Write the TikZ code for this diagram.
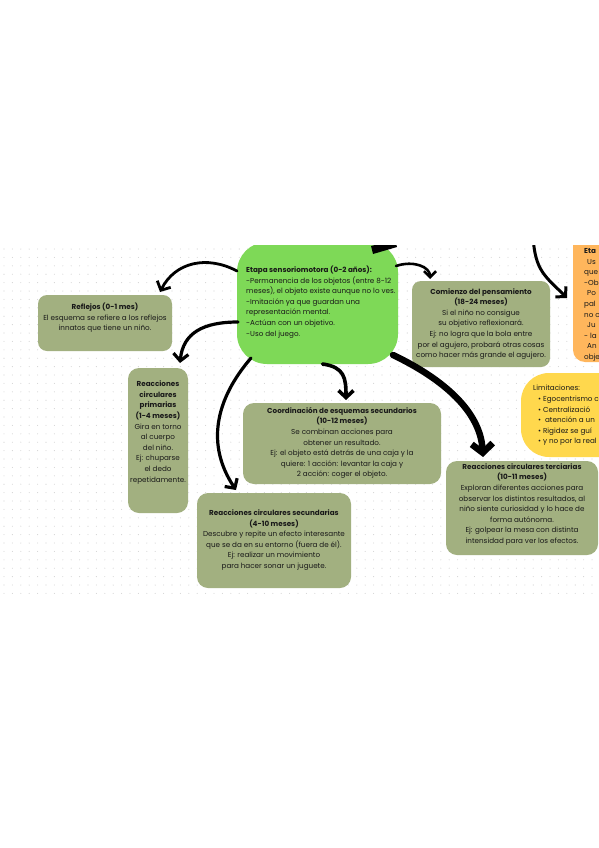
\documentclass[tikz,border=0pt]{standalone}
\usepackage{fontspec}
\setmainfont{Poppins}
\usetikzlibrary{arrows.meta,calc}
\definecolor{leaf}{RGB}{126,217,87}
\definecolor{sage}{RGB}{162,176,128}
\definecolor{peach}{RGB}{255,182,92}
\definecolor{sun}{RGB}{255,216,77}
\definecolor{ink}{RGB}{25,25,25}
\definecolor{dotc}{RGB}{212,212,212}
\begin{document}
\begin{tikzpicture}[x=1pt,y=-1pt,
  box/.style={rounded corners=9pt, fill=sage, inner sep=0pt, outer sep=0pt},
  txt/.style={inner sep=0pt, align=center, text=ink, font=\fontsize{7.2}{10.6}\selectfont},
  arr/.style={draw=black, line cap=round, -{Straight Barb[length=7pt,width=15pt]}, line width=3pt},
]
\useasboundingbox (0,0) rectangle (599,848);
\fill[white] (0,0) rectangle (599,848);
\begin{scope}
\clip (0,245) rectangle (599,600);
\foreach \i in {0,...,71}{\foreach \j in {0,...,42}{\fill[dotc] (4+8.4*\i, 249+8.4*\j) circle (0.55);}}
% boxes
\node[box, fill=leaf, rounded corners=30pt, minimum width=161pt, minimum height=122pt] (blob) at (317.5,303) {};
\node[box, minimum width=134pt, minimum height=56pt] (refl) at (105,323) {};
\node[box, minimum width=138pt, minimum height=86pt] (com) at (481,324) {};
\node[box, rounded corners=11pt, minimum width=60pt, minimum height=145pt] (prim) at (158,440.5) {};
\node[box, rounded corners=11pt, minimum width=198pt, minimum height=81pt] (coord) at (342,443.5) {};
\node[box, rounded corners=11pt, minimum width=154pt, minimum height=95pt] (sec) at (274,540.5) {};
\node[box, rounded corners=11pt, minimum width=152pt, minimum height=94pt] (terc) at (522,508) {};
\node[box, fill=sun, rounded corners=28pt, minimum width=129pt, minimum height=84pt] (lim) at (585.5,415) {};
\node[box, fill=peach, rounded corners=12pt, minimum width=67pt, minimum height=132pt] (org) at (606.5,296) {};
% texts
\node[txt, anchor=west, align=left] (blobt) at (246,302) {\textbf{Etapa sensoriomotora (0-2 años):}\\
-Permanencia de los objetos (entre 8-12\\
meses), el objeto existe aunque no lo ves.\\
-Imitación ya que guardan una\\
representación mental.\\
-Actúan con un objetivo.\\
-Uso del juego.};
\node[txt] (reflt) at (105,318) {\textbf{Reflejos (0-1 mes)}\\
El esquema se refiere a los reflejos\\
innatos que tiene un niño.};
\node[txt] (comt) at (481,324) {\textbf{Comienzo del pensamiento}\\
\textbf{(18-24 meses)}\\
Si el niño no consigue\\
su objetivo reflexionará.\\
Ej: no logra que la bola entre\\
por el agujero, probará otras cosas\\
como hacer más grande el agujero.};
\node[txt] (primt) at (158,432.5) {\textbf{Reacciones}\\
\textbf{circulares}\\
\textbf{primarias}\\
\textbf{(1-4 meses)}\\
Gira en torno\\
al cuerpo\\
del niño.\\
Ej: chuparse\\
el dedo\\
repetidamente.};
\node[txt] (coordt) at (342,443) {\textbf{Coordinación de esquemas secundarios}\\
\textbf{(10-12 meses)}\\
Se combinan acciones para\\
obtener un resultado.\\
Ej: el objeto está detrás de una caja y la\\
quiere: 1 acción: levantar la caja y\\
2 acción: coger el objeto.};
\node[txt] (sect) at (274,540) {\textbf{Reacciones circulares secundarias}\\
\textbf{(4-10 meses)}\\
Descubre y repite un efecto interesante\\
que se da en su entorno (fuera de él).\\
Ej: realizar un movimiento\\
para hacer sonar un juguete.};
\node[txt] (terct) at (522,504.5) {\textbf{Reacciones circulares terciarias}\\
\textbf{(10-11 meses)}\\
Exploran diferentes acciones para\\
observar los distintos resultados, al\\
niño siente curiosidad y lo hace de\\
forma autónoma.\\
Ej: golpear la mesa con distinta\\
intensidad para ver los efectos.};
\node[txt, anchor=west, align=left] (limt) at (533,415.5) {Limitaciones:\\
\hspace{5pt}• Egocentrismo c\\
\hspace{5pt}• Centralizació\\
\hspace{5pt}• \hspace{2pt}atención a un\\
\hspace{5pt}• Rigidez se guí\\
\hspace{5pt}• y no por la real};
\node[txt, anchor=west, align=left] (orgt) at (584,305) {\textbf{Eta}\\
\hspace{3pt}Us\\
que\\
-Ob\\
\hspace{3pt}Po\\
pal\\
no c\\
\hspace{3pt}Ju\\
- la\\
\hspace{3pt}An\\
obje};
% connectors
\draw[arr, line width=2.8pt] ($(blob.west)+(0,-32)$) .. controls +(-30,-16) and +(15,-30) .. ($(refl.north)+(55,-3)$);
\draw[arr, line width=3.2pt] ($(blob.west)+(1,19)$) .. controls +(-35,0) and +(3,-30) .. ($(prim.north)+(22,-5)$);
\draw[arr, line width=3.2pt] ($(blob.south west)+(14,-6)$) .. controls +(-36,42) and +(-30,-45) .. ($(sec.north)+(-38,-3)$);
\draw[arr, line width=3.6pt] ($(blob.south)+(5,0)$) .. controls +(22,3) and +(0,-22) .. ($(coord.north)+(4,-3)$);
\draw[arr, line width=6.5pt, -{Straight Barb[length=9pt,width=21pt]}] ($(blob.south east)+(-5,-9)$) .. controls +(42,20) and +(-3,-50) .. ($(terc.north)+(-39,-4)$);
\draw[arr, line width=2.6pt, -{Straight Barb[length=6pt,width=12pt]}] ($(blob.east)+(-2,-37)$) .. controls +(18,-6) and +(0,-12) .. ($(com.north)+(-51,-2)$);
\coordinate (topsrc) at (533,236);
\draw[arr, line width=3pt] (topsrc) .. controls +(2,35) and +(-22,-22) .. ($(org.west)+(-6,2)$);
\fill[black] (371,246) -- (395,240) -- (397,247) -- (373,254) -- cycle;
\end{scope}
\end{tikzpicture}
\end{document}
